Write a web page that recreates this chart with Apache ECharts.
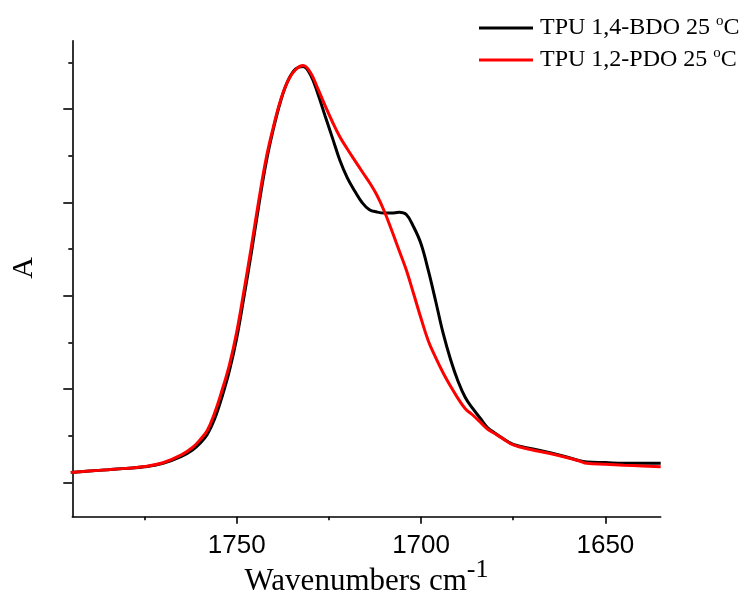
<!DOCTYPE html>
<html>
<head>
<meta charset="utf-8">
<script src="https://cdn.jsdelivr.net/npm/echarts/dist/echarts.min.js"></script>
<style>
html,body{margin:0;padding:0;background:#fff;}
#chart{width:744px;height:599px;}
</style>
</head>
<body>
<div id="chart"></div>
<script>
// Wavenumbers (cm-1)
const wavenumbers = [1795,1790,1785,1780,1775,1770,1765,1762,1760,1758,1756,1754,1752,1750,1748,1746,1744,1742,1740,1738,1736,1734,1732,1730,1728,1726,1724,1722,1720,1718,1716,1714,1712,1710,1708,1706,1704,1702,1700,1698,1696,1694,1692,1690,1688,1686,1684,1682,1680,1678,1675,1670,1665,1660,1657,1655,1650,1645,1640,1635];
// TPU 1,4-BDO 25 °C absorbance
const bdo = [0.0106,0.0121,0.0134,0.0149,0.0166,0.0202,0.0277,0.0346,0.0416,0.0512,0.0678,0.0914,0.1193,0.1547,0.1997,0.2468,0.2972,0.3433,0.3797,0.4098,0.4312,0.4430,0.4457,0.4368,0.4165,0.3923,0.3686,0.3449,0.3262,0.3122,0.2999,0.2921,0.2897,0.2886,0.2886,0.2893,0.2870,0.2736,0.2554,0.2265,0.1935,0.1595,0.1316,0.1086,0.0909,0.0791,0.0689,0.0587,0.0528,0.0475,0.0407,0.0360,0.0317,0.0266,0.0230,0.0218,0.0211,0.0204,0.0204,0.0204];
// TPU 1,2-PDO 25 °C absorbance
const pdo = [0.0106,0.0121,0.0134,0.0149,0.0168,0.0209,0.0293,0.0373,0.0453,0.0555,0.0743,0.0984,0.1257,0.1611,0.2061,0.2533,0.3026,0.3476,0.3819,0.4108,0.4312,0.4424,0.4467,0.4392,0.4219,0.4035,0.3859,0.3701,0.3572,0.3451,0.3331,0.3213,0.3079,0.2908,0.2704,0.2490,0.2275,0.2018,0.1755,0.1512,0.1333,0.1171,0.1029,0.0900,0.0789,0.0721,0.0647,0.0571,0.0522,0.0473,0.0400,0.0349,0.0308,0.0260,0.0227,0.0203,0.0193,0.0183,0.0175,0.0167];

const seriesNames = ['TPU 1,4-BDO 25 °C', 'TPU 1,2-PDO 25 °C'];
const xMajorTicks = [1750, 1700, 1650];
const xMinorTicks = [1775, 1725, 1675];
const yMajorTicks = [0, 0.1, 0.2, 0.3, 0.4];
const yMinorTicks = [0.05, 0.15, 0.25, 0.35, 0.45];

const chart = echarts.init(document.getElementById('chart'), null, {renderer: 'canvas'});
const serif = 'Liberation Serif';
const sans = 'Liberation Sans';
const xMin = 1635, xMax = 1794.6, yMin = -0.0369, yMax = 0.4733;
const axisLineStyle = {color: '#000', width: 1.6};

const option = {
  animation: false,
  backgroundColor: '#fff',
  grid: {left: 72.3, right: 83.3, top: 40.7, bottom: 82.3, containLabel: false, outerBoundsMode: 'none'},
  legend: {
    orient: 'vertical', left: 474, top: 9, itemWidth: 54, itemHeight: 3, itemGap: 6,
    icon: 'rect', selectedMode: false,
    data: seriesNames,
    formatter: function (name) {
      const base = name.replace(/ °C$/, '');
      return '{f|' + base + ' }{s|o}{n|C}';
    },
    textStyle: {
      color: '#000', fontFamily: serif, fontSize: 24,
      rich: {
        f: {fontFamily: serif, fontSize: 24, lineHeight: 28, color: '#000', padding: [0, 0, 0, 2]},
        s: {fontFamily: serif, fontSize: 15, color: '#000', verticalAlign: 'top'},
        n: {fontFamily: serif, fontSize: 24, lineHeight: 28, color: '#000'}
      }
    }
  },
  xAxis: [{
    type: 'value', inverse: true, min: xMin, max: xMax, position: 'bottom', offset: 0,
    axisLine: {show: true, onZero: false, lineStyle: axisLineStyle},
    axisTick: {show: true, inside: false, length: 7, customValues: xMajorTicks, lineStyle: axisLineStyle},
    axisLabel: {show: true, customValues: xMajorTicks, margin: 16, color: '#000', fontFamily: sans, fontSize: 26,
      formatter: function (v) { return String(v); }},
    splitLine: {show: false},
    name: '{a|Wavenumbers cm}{b|-1}',
    nameLocation: 'middle', nameGap: 40, nameMoveOverlap: false,
    nameTextStyle: {
      color: '#000', fontFamily: serif, fontSize: 31,
      rich: {
        a: {fontFamily: serif, fontSize: 31, lineHeight: 50, color: '#000'},
        b: {fontFamily: serif, fontSize: 26, color: '#000', verticalAlign: 'top'}
      }
    }
  }, {
    type: 'value', inverse: true, min: xMin, max: xMax, position: 'bottom', offset: 0,
    axisLine: {show: false, onZero: false},
    axisTick: {show: true, inside: false, length: 3.5, customValues: xMinorTicks, lineStyle: axisLineStyle},
    axisLabel: {show: false},
    splitLine: {show: false}
  }],
  yAxis: [{
    type: 'value', min: yMin, max: yMax, position: 'left', offset: 0,
    axisLine: {show: true, onZero: false, lineStyle: axisLineStyle},
    axisTick: {show: true, inside: false, length: 9, customValues: yMajorTicks, lineStyle: axisLineStyle},
    axisLabel: {show: false},
    splitLine: {show: false}
  }, {
    type: 'value', min: yMin, max: yMax, position: 'left', offset: 0,
    axisLine: {show: false, onZero: false},
    axisTick: {show: true, inside: false, length: 4, customValues: yMinorTicks, lineStyle: axisLineStyle},
    axisLabel: {show: false},
    splitLine: {show: false}
  }],
  graphic: [{
    type: 'text', x: 24, y: 268, rotation: Math.PI / 2,
    style: {text: 'A', fontFamily: serif, fontSize: 30, fill: '#000', align: 'center', verticalAlign: 'middle'}
  }],
  series: [{
    name: seriesNames[0], type: 'line', xAxisIndex: 0, yAxisIndex: 0,
    data: wavenumbers.map((w, i) => [w, bdo[i]]),
    showSymbol: false, symbol: 'none', smooth: 0.4, clip: true,
    lineStyle: {color: '#000', width: 3}, itemStyle: {color: '#000'}
  }, {
    name: seriesNames[1], type: 'line', xAxisIndex: 0, yAxisIndex: 0,
    data: wavenumbers.map((w, i) => [w, pdo[i]]),
    showSymbol: false, symbol: 'none', smooth: 0.4, clip: true,
    lineStyle: {color: '#ff0000', width: 3}, itemStyle: {color: '#ff0000'}
  }]
};
chart.setOption(option);
</script>
</body>
</html>
